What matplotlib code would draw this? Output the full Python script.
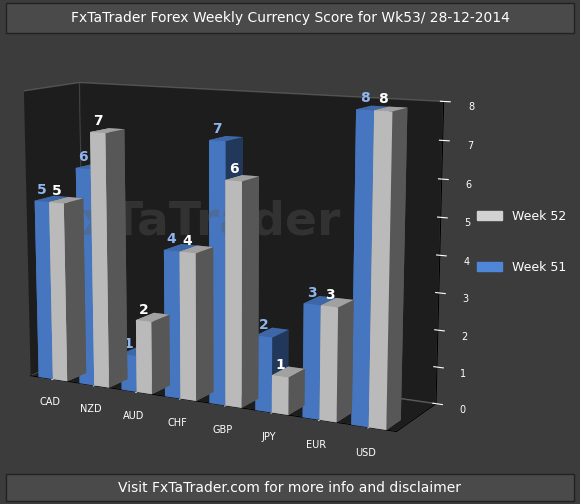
import matplotlib
matplotlib.use("Agg")
import matplotlib.pyplot as plt
import numpy as np
from matplotlib.patches import Patch

categories = ["CAD", "NZD", "AUD", "CHF", "GBP", "JPY", "EUR", "USD"]
week51 = [5, 6, 1, 4, 7, 2, 3, 8]
week52 = [5, 7, 2, 4, 6, 1, 3, 8]

fig = plt.figure(figsize=(5.8, 5.04), dpi=100, facecolor="#3c3c3c")
fig.patches.append(plt.Rectangle((0.01, 0.935), 0.98, 0.06, transform=fig.transFigure,
                                 facecolor="#4a4a4a", edgecolor="#222222"))
fig.text(0.5, 0.965, "FxTaTrader Forex Weekly Currency Score for Wk53/ 28-12-2014",
         ha="center", va="center", color="white", fontsize=10)
fig.patches.append(plt.Rectangle((0.01, 0.005), 0.98, 0.055, transform=fig.transFigure,
                                 facecolor="#4a4a4a", edgecolor="#222222"))
fig.text(0.5, 0.032, "Visit FxTaTrader.com for more info and disclaimer",
         ha="center", va="center", color="white", fontsize=10)

ax = fig.add_axes([-0.11, 0.0, 0.98, 1.0], projection="3d")
ax.set_facecolor("#3c3c3c")
ax.set_proj_type("persp", focal_length=0.6)
for pane in (ax.xaxis.pane, ax.yaxis.pane, ax.zaxis.pane):
    pane.set_facecolor("black")
    pane.set_edgecolor("#777777")
x = np.arange(len(categories))
w = 0.35
ax.bar3d(x, np.zeros(len(x)), np.zeros(len(x)), w, 0.35, week51, color="#4f86d8", shade=True)
ax.bar3d(x + w, np.zeros(len(x)), np.zeros(len(x)), w, 0.35, week52, color="#d2d2d2", shade=True)
for i in range(len(x)):
    ax.text(x[i] + w / 2, 0.0, week51[i] + 0.2, str(week51[i]), color="#8fb4ee",
            fontsize=10, fontweight="bold", ha="center")
    ax.text(x[i] + 1.5 * w, 0.0, week52[i] + 0.2, str(week52[i]), color="white",
            fontsize=10, fontweight="bold", ha="center")
ax.set_xlim(-0.2, 7.9)
ax.set_ylim(0, 1.0)
ax.set_zlim(0, 8)
ax.set_box_aspect((8, 2.0, 5.8))
ax.set_xticks(x + w)
ax.set_xticklabels(categories, color="white", fontsize=7)
ax.set_yticks([])
ax.set_zticks(range(9))
ax.tick_params(axis="z", colors="white", labelsize=7)
ax.tick_params(axis="x", colors="white")
ax.grid(False)
ax.view_init(elev=11, azim=-62)
ax.text2D(0.45, 0.56, "FxTaTrader", transform=ax.transAxes, ha="center", va="center",
          color="#5a5a5a", fontsize=34, fontweight="bold", alpha=0.35)

fig.legend(handles=[Patch(color="#d2d2d2", label="Week 52"), Patch(color="#4f86d8", label="Week 51")],
           loc="center right", bbox_to_anchor=(0.995, 0.52), frameon=False,
           labelcolor="white", fontsize=9, labelspacing=3)
fig.savefig("out.png", dpi=100, facecolor=fig.get_facecolor())
